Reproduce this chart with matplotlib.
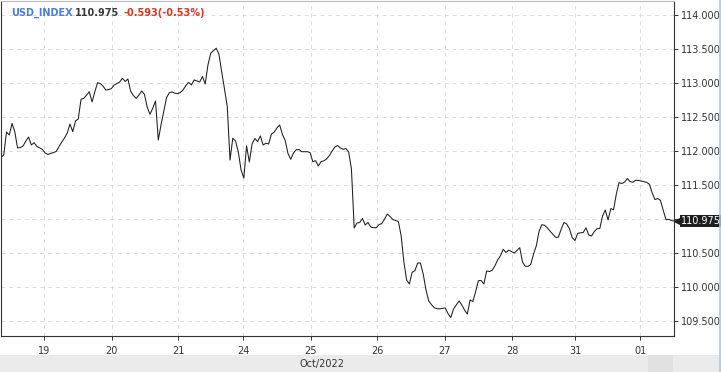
import numpy as np
import matplotlib
matplotlib.use('Agg')
import matplotlib.pyplot as plt
from matplotlib.patches import Rectangle
from matplotlib.lines import Line2D
import matplotlib.transforms as mtransforms

# hourly closes, USD_INDEX, 18 Oct - 1 Nov 2022
prices = [
    111.912, 111.946, 112.284, 112.240, 112.409, 112.288, 112.049, 112.056, 112.078, 112.151,
    112.210, 112.093, 112.126, 112.071, 112.051, 112.026, 111.976, 111.953, 111.969, 111.982,
    111.997, 112.069, 112.135, 112.194, 112.269, 112.401, 112.288, 112.446, 112.475, 112.765,
    112.778, 112.828, 112.876, 112.725, 112.875, 113.009, 112.996, 112.957, 112.901, 112.907,
    112.922, 112.974, 112.997, 113.019, 113.074, 113.026, 113.063, 112.882, 112.819, 112.776,
    112.828, 112.887, 112.835, 112.647, 112.544, 112.634, 112.740, 112.166, 112.390, 112.594,
    112.791, 112.860, 112.874, 112.854, 112.849, 112.865, 112.903, 112.968, 113.013, 112.975,
    113.050, 113.035, 113.019, 113.100, 112.990, 113.269, 113.443, 113.479, 113.516, 113.425,
    113.162, 112.916, 112.659, 111.872, 112.193, 112.151, 111.990, 111.725, 111.607, 112.078,
    111.843, 112.107, 112.188, 112.144, 112.225, 112.093, 112.118, 112.107, 112.254, 112.281,
    112.343, 112.387, 112.247, 112.159, 111.968, 111.882, 111.975, 112.024, 112.026, 111.994,
    111.994, 111.994, 111.982, 111.847, 111.862, 111.784, 111.847, 111.860, 111.887, 111.938,
    112.004, 112.063, 112.085, 112.049, 112.029, 112.040, 111.990, 111.740, 110.872, 110.946,
    110.953, 111.012, 110.916, 110.953, 110.887, 110.876, 110.876, 110.921, 110.938, 111.004,
    111.078, 111.041, 110.997, 110.982, 110.968, 110.762, 110.376, 110.107, 110.049, 110.222,
    110.244, 110.357, 110.357, 110.196, 109.968, 109.799, 109.746, 109.701, 109.685, 109.684,
    109.691, 109.697, 109.613, 109.556, 109.681, 109.740, 109.799, 109.740, 109.666, 109.607,
    109.813, 109.791, 109.935, 110.097, 110.100, 110.049, 110.240, 110.232, 110.249, 110.316,
    110.404, 110.463, 110.559, 110.513, 110.546, 110.526, 110.503, 110.543, 110.582, 110.372,
    110.309, 110.307, 110.338, 110.490, 110.610, 110.824, 110.921, 110.912, 110.874, 110.825,
    110.779, 110.735, 110.737, 110.853, 110.953, 110.932, 110.863, 110.731, 110.688, 110.794,
    110.801, 110.806, 110.875, 110.769, 110.754, 110.819, 110.863, 110.863, 111.049, 111.137,
    110.990, 111.157, 111.140, 111.372, 111.541, 111.525, 111.549, 111.600, 111.554, 111.544,
    111.575, 111.572, 111.563, 111.554, 111.544, 111.515, 111.387, 111.290, 111.306, 111.278,
    111.132, 110.994, 111.000, 110.981, 110.975,
]
day_labels = ['19', '20', '21', '24', '25', '26', '27', '28', '31', '01']
y_ticks = [109.5, 110.0, 110.5, 111.0, 111.5, 112.0, 112.5, 113.0, 113.5, 114.0]
symbol = 'USD_INDEX'
last = 110.975
change = -0.593
change_pct = -0.53
month_label = 'Oct/2022'

W, H = 721, 372
fig = plt.figure(figsize=(W / 100, H / 100), dpi=100)
fig.patch.set_facecolor('white')

# axes box in pixels: left 1, right 674, top 1, bottom 336
ax = fig.add_axes([1 / W, 1 - 336 / H, 673 / W, 335 / H])
x = np.arange(len(prices))
ax.plot(x, prices, color='#1e1e1e', lw=0.75)

# day ticks sit at fixed positions along the hourly index
day_pos = [15.7, 40.1, 64.3, 87.7, 112.2, 136.3, 160.8, 185.2, 208.1, 231.7]
ax.set_xlim(0, 243.9)
ax.set_ylim(109.284, 114.21)
ax.set_xticks(day_pos)
ax.set_xticklabels(day_labels)
ax.yaxis.tick_right()
ax.set_yticks(y_ticks)
ax.set_yticklabels([f'{v:.3f}' for v in y_ticks])
ax.tick_params(axis='both', colors='#333333', labelcolor='#333333', labelsize=7,
               length=3, width=0.7, direction='out')
ax.tick_params(axis='x', pad=4)
ax.tick_params(axis='y', pad=2)

ax.grid(True, color='#dcdcdc', lw=0.7, ls=(0, (4, 4)))
ax.set_axisbelow(True)
for s in ax.spines.values():
    s.set_color('#333333')
    s.set_linewidth(0.8)
ax.spines['top'].set_color('#bbbbbb')

# last price tag on the right axis
trans = mtransforms.blended_transform_factory(ax.transAxes, ax.transData)
ax.plot([1.0 + 3 / 673], [last], marker='<', color='#1e1e1e', ms=5, transform=trans,
        clip_on=False)
ax.text(1.0 + 7 / 673, last, f'{last:.3f}', transform=trans, color='white', fontsize=7,
        va='center', ha='left',
        bbox=dict(boxstyle='square,pad=0.15', fc='#1e1e1e', ec='none'))

# header
fig.text(11 / W, 1 - 13 / H, symbol, color='#4a7fd8', fontsize=7, fontweight='bold',
         va='center', ha='left')
fig.text(75 / W, 1 - 13 / H, f'{last:.3f}', color='#3a3a3a', fontsize=7, fontweight='bold',
         va='center', ha='left')
fig.text(124 / W, 1 - 13 / H, f'{change:.3f}({change_pct:.2f}%)', color='#d9371f',
         fontsize=7, fontweight='bold', va='center', ha='left')

# bottom band with the month label
fig.patches.append(Rectangle((0, 0), 1, 17 / H, transform=fig.transFigure,
                             fc='#ebebeb', ec='none', zorder=0))
fig.patches.append(Rectangle((648 / W, 0), 25 / W, 17 / H, transform=fig.transFigure,
                             fc='#e1e1e1', ec='none', zorder=0))
fig.text(322 / W, 8.5 / H, month_label, color='#333333', fontsize=7,
         va='center', ha='center')
fig.lines.append(Line2D([719.5 / W, 719.5 / W], [0, 1], transform=fig.transFigure,
                        color='#a9c9e8', lw=1.2))

fig.savefig('out.png', dpi=100)
